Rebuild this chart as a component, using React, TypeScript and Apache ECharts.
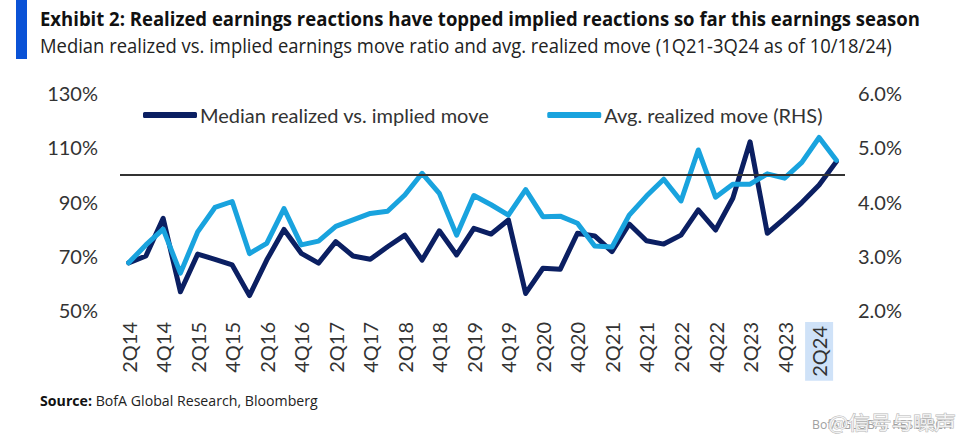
import React, { useEffect, useRef } from "react";
import * as echarts from "echarts";

const categories = [
  "2Q14", "3Q14", "4Q14", "1Q15", "2Q15", "3Q15", "4Q15", "1Q16", "2Q16", "3Q16", "4Q16",
  "1Q17", "2Q17", "3Q17", "4Q17", "1Q18", "2Q18", "3Q18", "4Q18", "1Q19", "2Q19", "3Q19",
  "4Q19", "1Q20", "2Q20", "3Q20", "4Q20", "1Q21", "2Q21", "3Q21", "4Q21", "1Q22", "2Q22",
  "3Q22", "4Q22", "1Q23", "2Q23", "3Q23", "4Q23", "1Q24", "2Q24", "3Q24",
];

const medianRatio = [
  67.4, 69.9, 83.8, 56.7, 70.6, 68.7, 66.6, 55.3, 68.4, 79.7, 70.9,
  67.3, 75.2, 69.9, 68.7, 73.3, 77.6, 68.4, 79.2, 70.3, 80.1, 78.0,
  83.2, 56.1, 65.4, 65.0, 78.3, 77.3, 71.5, 81.7, 75.5, 74.3, 77.6,
  86.9, 79.5, 91.2, 112.0, 78.3, 83.8, 89.6, 96.1, 104.7,
];

const avgRealized = [
  2.87, 3.2, 3.49, 2.68, 3.44, 3.89, 4.0, 3.04, 3.23, 3.87, 3.2,
  3.27, 3.54, 3.66, 3.78, 3.82, 4.12, 4.52, 4.15, 3.38, 4.11, 3.94,
  3.75, 4.22, 3.72, 3.73, 3.6, 3.18, 3.16, 3.75, 4.1, 4.41, 4.01,
  4.95, 4.08, 4.32, 4.32, 4.51, 4.43, 4.72, 5.18, 4.76,
];

const referenceLevel = 100;
const highlightLabel = "2Q24";

const titleText =
  "Exhibit 2: Realized earnings reactions have topped implied reactions so far this earnings season";
const subtitleText =
  "Median realized vs. implied earnings move ratio and avg. realized move (1Q21-3Q24 as of 10/18/24)";
const sourceBold = "Source:";
const sourceRest = " BofA Global Research, Bloomberg";
const logoText = "BofA GLOBAL RESEARCH";
const watermarkText = "@信号与噪声";

const FONT = "Lato, 'Open Sans', sans-serif";

function measure(text: string, font: string): number {
  const c = document.createElement("canvas").getContext("2d");
  if (!c) return text.length * 10;
  c.font = font;
  return c.measureText(text).width;
}

export default function App() {
  const ref = useRef<HTMLDivElement>(null);

  useEffect(() => {
    document.body.style.margin = "0";
    if (!ref.current) return;
    const chart = echarts.init(ref.current, undefined, { renderer: "svg" });

    const titleFont = "bold 20px 'Open Sans'";
    const subFont = "20px 'Open Sans'";
    const srcBoldFont = "bold 14px 'Open Sans'";
    const srcFont = "14px 'Open Sans'";
    const logoFont = "13px 'Open Sans'";
    const wmFont = "19px 'Noto Sans CJK SC'";
    const titleScale = 880 / measure(titleText, titleFont);
    const subScale = 853 / measure(subtitleText, subFont);
    const srcScale = 278 / (measure(sourceBold, srcBoldFont) + measure(sourceRest, srcFont));
    const logoScale = 140 / measure(logoText, logoFont);
    const wmScale = 128 / measure(watermarkText, wmFont);

    const option: any = {
      animation: false,
      backgroundColor: "#ffffff",
      graphic: [
        { type: "rect", shape: { x: 16, y: 0, width: 11, height: 59 }, style: { fill: "#0a52d6" } },
        {
          type: "text", x: 40, y: 18, scaleX: titleScale,
          style: { text: titleText, font: titleFont, fill: "#111", verticalAlign: "middle" },
        },
        {
          type: "text", x: 40, y: 45, scaleX: subScale,
          style: { text: subtitleText, font: subFont, fill: "#222", verticalAlign: "middle" },
        },
        {
          type: "text", x: 40, y: 401, scaleX: srcScale,
          style: {
            text: "{b|" + sourceBold + "}{r|" + sourceRest + "}",
            verticalAlign: "middle",
            rich: {
              b: { font: srcBoldFont, fill: "#111" },
              r: { font: srcFont, fill: "#222" },
            },
          },
        },
        {
          type: "text", x: 812, y: 424, scaleX: logoScale,
          style: { text: logoText, font: logoFont, fill: "#a0a0a0", verticalAlign: "middle" },
        },
        {
          type: "text", x: 828, y: 422, scaleX: wmScale,
          style: {
            text: watermarkText, font: wmFont, fill: "rgba(255,255,255,0.8)",
            stroke: "#b8b8b8", lineWidth: 1, verticalAlign: "middle",
          },
        },
      ],
      legend: {
        left: 138,
        top: 100,
        itemWidth: 54,
        itemHeight: 6,
        itemGap: 58,
        icon: "roundRect",
        textStyle: { fontFamily: FONT, fontSize: 20, color: "#333", padding: [0, 0, 0, -2] },
        data: ["Median realized vs. implied move", "Avg. realized move (RHS)"],
      },
      grid: { left: 120, right: 124, top: 93, bottom: 134 },
      xAxis: {
        type: "category",
        data: categories,
        boundaryGap: true,
        axisLine: { show: false },
        axisTick: { show: false },
        axisLabel: {
          rotate: 90,
          interval: 1,
          margin: 12,
          fontFamily: FONT,
          fontSize: 20,
          color: "#333",
          formatter: (v: string) => (v === highlightLabel ? "{hl|" + v + "}" : v),
          rich: {
            hl: {
              fontFamily: FONT,
              fontSize: 20,
              color: "#333",
              backgroundColor: "#cfe2f8",
              padding: [4, 4, 4, 4],
            },
          },
        },
      },
      yAxis: [
        {
          type: "value",
          min: 50,
          max: 130,
          interval: 20,
          axisLine: { show: false },
          axisTick: { show: false },
          splitLine: { show: false },
          axisLabel: {
            margin: 22,
            fontFamily: FONT,
            fontSize: 20,
            color: "#333",
            formatter: "{value}%",
          },
        },
        {
          type: "value",
          min: 2,
          max: 6,
          interval: 1,
          position: "right",
          axisLine: { show: false },
          axisTick: { show: false },
          splitLine: { show: false },
          axisLabel: {
            margin: 13,
            fontFamily: FONT,
            fontSize: 20,
            color: "#333",
            formatter: (v: number) => v.toFixed(1) + "%",
          },
        },
      ],
      series: [
        {
          name: "Median realized vs. implied move",
          type: "line",
          yAxisIndex: 0,
          data: medianRatio,
          symbol: "none",
          lineStyle: { color: "#0b1f62", width: 5, cap: "round", join: "round" },
          itemStyle: { color: "#0b1f62" },
          markLine: {
            silent: true,
            symbol: "none",
            label: { show: false },
            lineStyle: { color: "#333", width: 2, type: "solid" },
            data: [{ yAxis: referenceLevel }],
          },
        },
        {
          name: "Avg. realized move (RHS)",
          type: "line",
          yAxisIndex: 1,
          data: avgRealized,
          symbol: "none",
          lineStyle: { color: "#19a3de", width: 5, cap: "round", join: "round" },
          itemStyle: { color: "#19a3de" },
        },
      ],
    };

    chart.setOption(option);
    return () => chart.dispose();
  }, []);

  return <div ref={ref} style={{ width: 969, height: 444 }} />;
}
